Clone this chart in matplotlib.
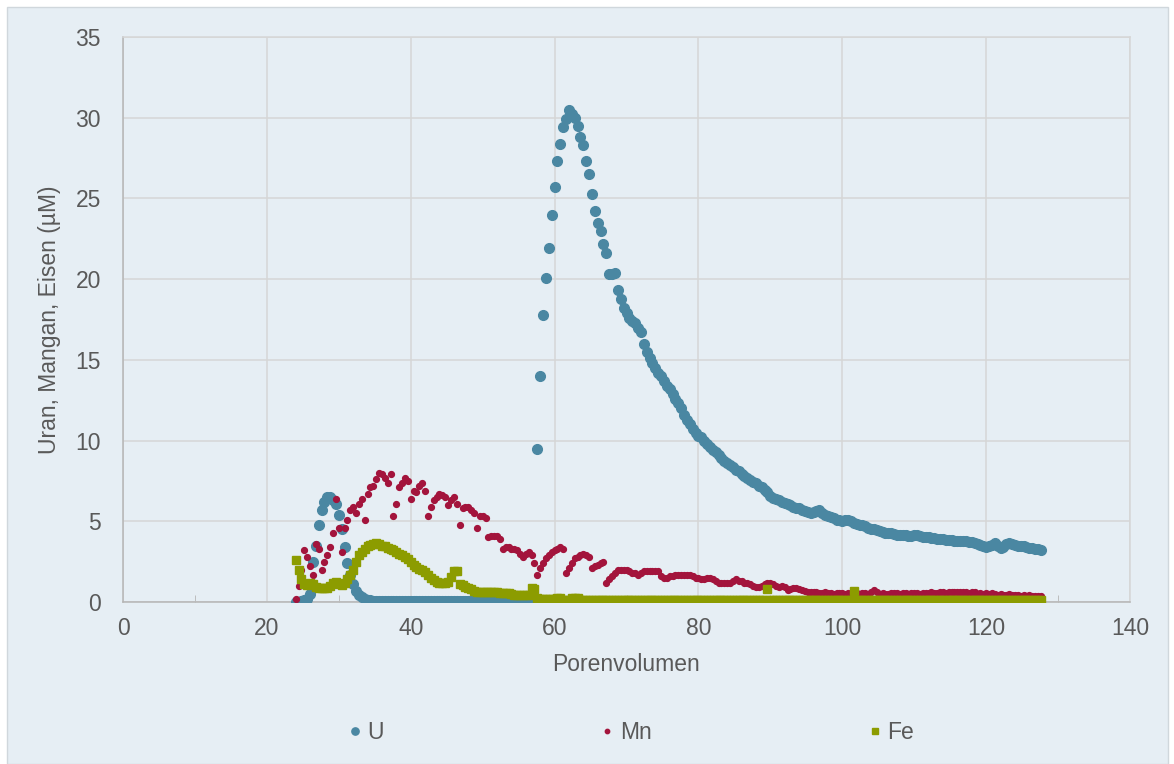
import matplotlib.pyplot as plt
import numpy as np
from matplotlib.patches import Rectangle
from matplotlib.ticker import MultipleLocator

# Porenvolumen (sample positions, 0.4 PV apart from 24.0 to 127.6)
pv = np.round(np.arange(260) * 0.4 + 24.0, 1)

# Uran (uM), ten samples per row
uran = [
    0.0, 0.0, 0.05, 0.1, 0.2, 0.5, 2.5, 3.5, 4.8, 5.7,
    6.2, 6.5, 6.5, 6.3, 6.1, 5.4, 4.5, 3.4, 2.4, 1.7,
    1.1, 0.7, 0.45, 0.3, 0.2, 0.15, 0.1, 0.08, 0.06, 0.05,
    0.05, 0.05, 0.05, 0.05, 0.05, 0.05, 0.05, 0.05, 0.05, 0.05,
    0.05, 0.05, 0.05, 0.05, 0.05, 0.05, 0.05, 0.05, 0.05, 0.05,
    0.05, 0.05, 0.05, 0.05, 0.05, 0.05, 0.05, 0.05, 0.05, 0.05,
    0.05, 0.05, 0.05, 0.05, 0.05, 0.05, 0.05, 0.05, 0.05, 0.05,
    0.05, 0.05, 0.05, 0.05, 0.05, 0.05, 0.03, 0.03, 0.03, 0.03,
    0.03, 0.03, 0.03, 0.03, 9.5, 14.0, 17.8, 20.1, 21.9, 24.0,
    25.7, 27.3, 28.4, 29.4, 29.9, 30.5, 30.2, 30.0, 29.5, 28.8,
    28.3, 27.3, 26.5, 25.3, 24.2, 23.5, 23.0, 22.2, 21.6, 20.3,
    20.3, 20.4, 19.3, 18.8, 18.2, 17.9, 17.6, 17.4, 17.3, 17.0,
    16.7, 16.0, 15.5, 15.1, 14.8, 14.5, 14.2, 14.0, 13.7, 13.4,
    13.2, 12.9, 12.6, 12.3, 12.0, 11.6, 11.3, 11.0, 10.7, 10.5,
    10.3, 10.2, 10.0, 9.8, 9.6, 9.4, 9.3, 9.1, 8.9, 8.75,
    8.6, 8.5, 8.35, 8.2, 8.1, 7.95, 7.8, 7.7, 7.55, 7.45,
    7.35, 7.2, 7.1, 6.95, 6.8, 6.55, 6.45, 6.35, 6.3, 6.2,
    6.15, 6.05, 6.0, 5.9, 5.85, 5.8, 5.7, 5.65, 5.6, 5.5,
    5.55, 5.65, 5.7, 5.5, 5.4, 5.3, 5.25, 5.2, 5.1, 5.05,
    5.0, 5.05, 5.1, 5.0, 4.9, 4.85, 4.8, 4.75, 4.7, 4.6,
    4.55, 4.5, 4.45, 4.4, 4.35, 4.3, 4.25, 4.25, 4.2, 4.15,
    4.15, 4.15, 4.15, 4.1, 4.1, 4.15, 4.15, 4.1, 4.05, 4.0,
    4.0, 3.95, 3.95, 3.9, 3.9, 3.9, 3.85, 3.85, 3.85, 3.8,
    3.8, 3.8, 3.75, 3.75, 3.7, 3.7, 3.65, 3.6, 3.55, 3.45,
    3.4, 3.45, 3.55, 3.65, 3.5, 3.35, 3.4, 3.6, 3.65, 3.6,
    3.55, 3.5, 3.5, 3.45, 3.4, 3.35, 3.35, 3.3, 3.3, 3.25,
]

# Mangan (uM)
mangan = [
    0.2, 1.0, 2.0, 3.2, 2.8, 2.2, 1.7, 3.6, 3.3, 2.0,
    2.5, 2.9, 3.4, 4.3, 6.4, 4.6, 3.1, 4.6, 5.1, 5.7,
    5.9, 5.5, 6.1, 6.4, 5.1, 6.7, 7.1, 7.2, 7.6, 8.0,
    7.9, 7.7, 7.4, 7.9, 5.3, 6.1, 7.1, 7.4, 7.7, 7.5,
    6.4, 6.9, 6.8, 7.2, 7.4, 6.9, 5.3, 5.9, 6.3, 6.5,
    6.7, 6.6, 6.5, 6.0, 6.3, 6.5, 6.1, 4.8, 5.8, 5.9,
    5.9, 5.7, 5.5, 4.6, 5.3, 5.3, 5.2, 4.0, 4.1, 4.1,
    4.1, 3.9, 3.3, 3.4, 3.4, 3.3, 3.3, 3.2, 3.0, 2.8,
    3.0, 3.1, 2.9, 2.4, 1.7, 2.1, 2.4, 2.7, 2.9, 3.1,
    3.2, 3.3, 3.4, 3.3, 1.8, 2.1, 2.4, 2.7, 2.8, 2.9,
    3.0, 2.9, 2.8, 2.1, 2.2, 2.3, 2.4, 2.5, 1.2, 1.4,
    1.6, 1.8, 2.0, 2.0, 2.0, 2.0, 1.9, 1.8, 1.8, 1.7,
    1.8, 1.9, 1.9, 1.9, 1.9, 1.9, 1.9, 1.6, 1.5, 1.5,
    1.6, 1.6, 1.7, 1.7, 1.7, 1.7, 1.7, 1.7, 1.6, 1.5,
    1.5, 1.4, 1.4, 1.5, 1.5, 1.4, 1.3, 1.2, 1.2, 1.2,
    1.2, 1.2, 1.3, 1.4, 1.3, 1.3, 1.2, 1.2, 1.1, 1.0,
    0.95, 0.9, 1.0, 1.1, 1.2, 1.2, 1.1, 1.0, 0.95, 1.0,
    0.9, 0.75, 0.8, 0.85, 0.85, 0.8, 0.75, 0.7, 0.65, 0.6,
    0.6, 0.6, 0.55, 0.55, 0.6, 0.55, 0.55, 0.5, 0.55, 0.55,
    0.55, 0.5, 0.55, 0.5, 0.55, 0.55, 0.5, 0.55, 0.55, 0.5,
    0.6, 0.75, 0.6, 0.5, 0.55, 0.5, 0.5, 0.55, 0.55, 0.55,
    0.5, 0.55, 0.55, 0.5, 0.55, 0.55, 0.55, 0.5, 0.55, 0.55,
    0.55, 0.6, 0.55, 0.55, 0.6, 0.6, 0.55, 0.6, 0.6, 0.6,
    0.6, 0.6, 0.65, 0.6, 0.55, 0.65, 0.6, 0.5, 0.55, 0.5,
    0.55, 0.5, 0.55, 0.5, 0.45, 0.5, 0.45, 0.45, 0.5, 0.45,
    0.45, 0.45, 0.4, 0.45, 0.4, 0.45, 0.4, 0.4, 0.4, 0.4,
]

# Eisen (uM)
eisen = [
    2.6, 2.0, 1.4, 1.1, 1.05, 1.2, 1.1, 0.95, 0.85, 0.85,
    0.85, 0.85, 1.0, 1.2, 1.25, 1.1, 1.05, 1.2, 1.4, 1.7,
    2.0, 2.5, 2.9, 3.1, 3.3, 3.45, 3.55, 3.6, 3.65, 3.6,
    3.5, 3.45, 3.35, 3.3, 3.2, 3.1, 3.0, 2.9, 2.8, 2.65,
    2.5, 2.3, 2.15, 2.05, 2.0, 1.85, 1.7, 1.5, 1.35, 1.25,
    1.2, 1.2, 1.2, 1.25, 1.55, 1.95, 1.95, 1.1, 1.05, 0.95,
    0.85, 0.8, 0.7, 0.65, 0.6, 0.6, 0.6, 0.6, 0.6, 0.6,
    0.6, 0.55, 0.55, 0.55, 0.55, 0.5, 0.45, 0.45, 0.45, 0.45,
    0.45, 0.45, 0.85, 0.8, 0.25, 0.2, 0.2, 0.2, 0.2, 0.2,
    0.2, 0.25, 0.25, 0.15, 0.15, 0.15, 0.25, 0.25, 0.25, 0.15,
    0.1, 0.1, 0.1, 0.1, 0.1, 0.1, 0.1, 0.1, 0.1, 0.1,
    0.1, 0.1, 0.1, 0.1, 0.1, 0.1, 0.1, 0.1, 0.1, 0.1,
    0.1, 0.1, 0.1, 0.1, 0.1, 0.1, 0.1, 0.1, 0.1, 0.1,
    0.1, 0.1, 0.1, 0.1, 0.1, 0.1, 0.1, 0.1, 0.1, 0.1,
    0.1, 0.1, 0.1, 0.1, 0.1, 0.1, 0.1, 0.1, 0.1, 0.1,
    0.1, 0.1, 0.1, 0.1, 0.1, 0.1, 0.1, 0.1, 0.1, 0.1,
    0.1, 0.1, 0.1, 0.1, 0.8, 0.1, 0.1, 0.1, 0.1, 0.1,
    0.1, 0.1, 0.1, 0.1, 0.1, 0.1, 0.1, 0.1, 0.1, 0.1,
    0.1, 0.1, 0.1, 0.1, 0.1, 0.1, 0.1, 0.1, 0.1, 0.1,
    0.1, 0.1, 0.1, 0.1, 0.7, 0.1, 0.1, 0.1, 0.1, 0.1,
    0.1, 0.1, 0.1, 0.1, 0.1, 0.1, 0.1, 0.1, 0.1, 0.1,
    0.1, 0.1, 0.1, 0.1, 0.1, 0.1, 0.1, 0.1, 0.1, 0.1,
    0.1, 0.1, 0.1, 0.1, 0.1, 0.1, 0.1, 0.1, 0.1, 0.1,
    0.1, 0.1, 0.1, 0.1, 0.1, 0.1, 0.1, 0.1, 0.1, 0.1,
    0.1, 0.1, 0.1, 0.1, 0.1, 0.1, 0.1, 0.1, 0.1, 0.1,
    0.1, 0.1, 0.1, 0.1, 0.1, 0.1, 0.1, 0.1, 0.1, 0.1,
]

bg = '#e6eef4'
grid_col = '#d6d6d6'
text_col = '#595959'

plt.rcParams['font.family'] = ['Liberation Sans', 'DejaVu Sans']

fig = plt.figure(figsize=(11.74, 7.64), dpi=100, facecolor='white')
# light panel behind the chart (drawn below the axes)
panel = Rectangle((7 / 1174, 0), 1161 / 1174, 757 / 764,
                  transform=fig.transFigure, facecolor=bg,
                  edgecolor='#d0d7dc', linewidth=1, zorder=-5)
fig.patches.append(panel)

ax = fig.add_axes([123 / 1174, 1 - 602 / 764, 1007 / 1174, 565 / 764])
ax.set_facecolor(bg)

ax.plot(pv, uran, linestyle='none', marker='o', ms=7.0, color='#4a87a2',
        label='U', zorder=3)
ax.plot(pv, mangan, linestyle='none', marker='o', ms=4.2, color='#a3143c',
        label='Mn', zorder=4)
ax.plot(pv, eisen, linestyle='none', marker='s', ms=6.4, color='#8c9c00',
        label='Fe', zorder=5)

ax.set_xlim(0, 140)
ax.set_ylim(0, 35)
ax.xaxis.set_major_locator(MultipleLocator(20))
ax.xaxis.set_minor_locator(MultipleLocator(10))
ax.yaxis.set_major_locator(MultipleLocator(5))

ax.grid(True, which='major', color=grid_col, linewidth=1.1, zorder=0)
ax.set_axisbelow(True)

for s in ['top', 'right']:
    ax.spines[s].set_color(grid_col)
    ax.spines[s].set_linewidth(1.1)
for s in ['left', 'bottom']:
    ax.spines[s].set_color('#b5b5b5')
    ax.spines[s].set_linewidth(1.1)

ax.tick_params(axis='both', which='major', length=0, labelsize=16.5,
               labelcolor=text_col)
ax.tick_params(axis='x', which='major', pad=11)
ax.tick_params(axis='y', which='major', pad=16)
ax.tick_params(axis='x', which='minor', direction='in', length=5,
               color='#b5b5b5')
ax.tick_params(axis='y', which='minor', length=0)

ax.set_xlabel('Porenvolumen', fontsize=16.5, color=text_col, labelpad=9)
ax.set_ylabel('Uran, Mangan, Eisen (\u00b5M)', fontsize=16.5,
              color=text_col, labelpad=10)

leg = fig.legend(loc='center', bbox_to_anchor=(0.538, 0.041), ncol=3,
                 frameon=False, fontsize=16.5, handlelength=0.5,
                 handletextpad=0.3, columnspacing=9.5, markerscale=0.75)
for t in leg.get_texts():
    t.set_color(text_col)

plt.savefig('out.png', dpi=100, facecolor='white')
